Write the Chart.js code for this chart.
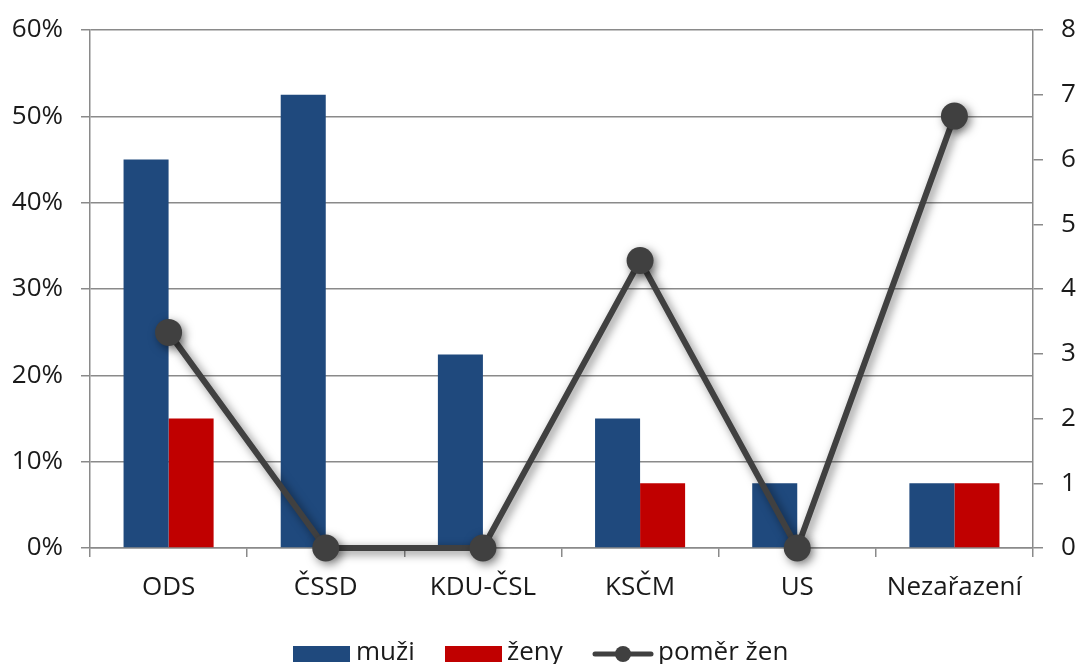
<!DOCTYPE html>
<html>
<head>
<meta charset="utf-8">
<script src="https://cdn.jsdelivr.net/npm/chart.js@4.4.0/dist/chart.umd.min.js"></script>
<style>
  body { margin: 0; background: #fff; font-family: "Open Sans", sans-serif; }
  #wrap { position: relative; width: 1080px; height: 664px; }
  #legend { position: absolute; left: 0; top: 635px; width: 1080px; height: 30px; }
  .item { position: absolute; top: 0; font-size: 26px; color: #1a1a1a; line-height: 30px; }
  .swatch { position: absolute; top: 11px; width: 57px; height: 16px; }
</style>
</head>
<body>
<div id="wrap">
  <canvas id="chart" width="1080" height="664"></canvas>
  <div id="legend">
    <div class="swatch" style="left:293px;background:#1f497d"></div>
    <div class="item" style="left:356px">muži</div>
    <div class="swatch" style="left:445px;background:#c00000"></div>
    <div class="item" style="left:507px">ženy</div>
    <canvas id="lineKey" width="62" height="30" style="position:absolute;left:592px;top:4px"></canvas>
    <div class="item" style="left:658px">poměr žen</div>
  </div>
</div>
<script>
// data
const parties = ["ODS", "ČSSD", "KDU-ČSL", "KSČM", "US", "Nezařazení"];
const men = [45, 52.5, 22.4, 15, 7.5, 7.5];     // % muži
const women = [15, 0, 0, 7.5, 0, 7.5];          // % ženy
const ratio = [3.33, 0, 0, 4.44, 0, 6.67];      // poměr žen
const leftTicks = [0, 10, 20, 30, 40, 50, 60];
const rightTicks = [0, 1, 2, 3, 4, 5, 6, 7, 8];

const gridColor = "#8a8a8a";
const textColor = "#1a1a1a";
const tickFont = { family: "'Open Sans', sans-serif", size: 26 };

// soft drop shadow under the ratio line, like the office chart
const lineShadow = {
  id: "lineShadow",
  beforeDatasetDraw(chart, args) {
    if (args.meta.type !== "line") return;
    const ctx = chart.ctx;
    ctx.save();
    ctx.shadowColor = "rgba(0,0,0,0.5)";
    ctx.shadowBlur = 10;
    ctx.shadowOffsetX = 3;
    ctx.shadowOffsetY = 3;
  },
  afterDatasetDraw(chart, args) {
    if (args.meta.type !== "line") return;
    chart.ctx.restore();
  },
};

// fixed plot box: the tick labels may not push the area down
function fitY(width) {
  return (scale) => {
    scale.width = width;
    scale.paddingTop = 0;
    scale.paddingBottom = 0;
  };
}

const ctx = document.getElementById("chart").getContext("2d");
new Chart(ctx, {
  type: "bar",
  data: {
    labels: parties,
    datasets: [
      {
        type: "line",
        label: "poměr žen",
        data: ratio,
        yAxisID: "y1",
        borderColor: "#404040",
        backgroundColor: "#404040",
        borderWidth: 6,
        pointRadius: 13.5,
        pointBackgroundColor: "#404040",
        pointBorderWidth: 0,
        tension: 0,
        clip: false,
        order: 0,
      },
      {
        label: "muži",
        data: men,
        backgroundColor: "#1f497d",
        yAxisID: "y",
        categoryPercentage: 0.573,
        barPercentage: 1,
        order: 1,
      },
      {
        label: "ženy",
        data: women,
        backgroundColor: "#c00000",
        yAxisID: "y",
        categoryPercentage: 0.573,
        barPercentage: 1,
        order: 1,
      },
    ],
  },
  options: {
    responsive: false,
    animation: false,
    layout: { padding: { top: 30, right: 0, bottom: 0, left: 0 } },
    plugins: { legend: { display: false }, tooltip: { enabled: false } },
    scales: {
      x: {
        afterFit: (scale) => { scale.height = 116; scale.paddingLeft = 0; scale.paddingRight = 0; },
        grid: { offset: true, drawOnChartArea: false, color: gridColor, lineWidth: 1.5, tickLength: 9 },
        border: { color: gridColor, width: 1.5 },
        ticks: { color: textColor, font: tickFont, padding: 15 },
      },
      y: {
        position: "left",
        min: 0,
        max: 60,
        afterFit: fitY(90),
        afterBuildTicks: (scale) => { scale.ticks = leftTicks.map((v) => ({ value: v })); },
        grid: { color: gridColor, lineWidth: 1.5, tickLength: 9 },
        border: { color: gridColor, width: 1.5 },
        ticks: { color: textColor, font: tickFont, padding: 18, callback: (v) => v + "%" },
      },
      y1: {
        position: "right",
        min: 0,
        max: 8,
        afterFit: fitY(47),
        afterBuildTicks: (scale) => { scale.ticks = rightTicks.map((v) => ({ value: v })); },
        grid: { drawOnChartArea: false, color: gridColor, lineWidth: 1.5, tickLength: 10 },
        border: { color: gridColor, width: 1.5 },
        ticks: { color: textColor, font: tickFont, padding: 18 },
      },
    },
  },
  plugins: [lineShadow],
});

// legend key for the line series
const key = document.getElementById("lineKey").getContext("2d");
key.strokeStyle = "#404040";
key.lineWidth = 5;
key.lineCap = "round";
key.beginPath();
key.moveTo(3, 15);
key.lineTo(59, 15);
key.stroke();
key.fillStyle = "#404040";
key.beginPath();
key.arc(31, 15, 8, 0, Math.PI * 2);
key.fill();
</script>
</body>
</html>
